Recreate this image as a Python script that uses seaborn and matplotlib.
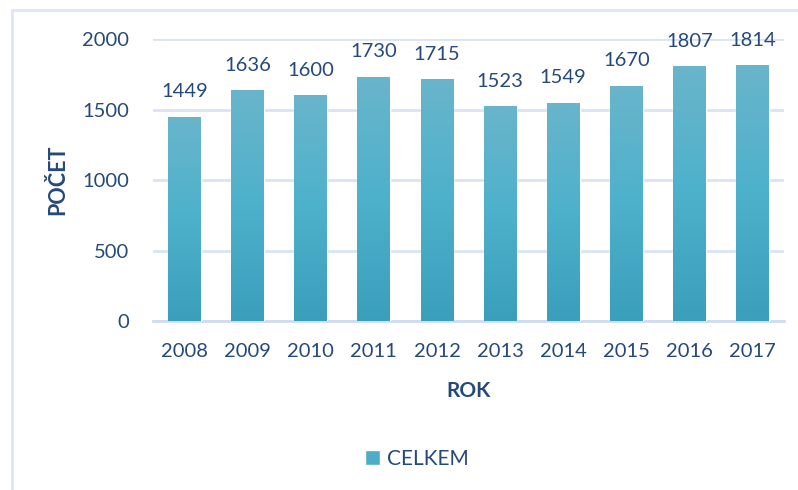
import numpy as np
import pandas as pd
import seaborn as sns
import matplotlib.pyplot as plt
from matplotlib.lines import Line2D
from matplotlib.patches import Patch

roky = ['2008', '2009', '2010', '2011', '2012', '2013', '2014', '2015', '2016', '2017']
celkem = [1449, 1636, 1600, 1730, 1715, 1523, 1549, 1670, 1807, 1814]

text_color = '#24497a'
grid_color = '#d9e3f2'

sns.set_theme(style='white')
plt.rcParams['font.family'] = ['Lato', 'DejaVu Sans']

df = pd.DataFrame({'rok': roky, 'pocet': celkem})

fig = plt.figure(figsize=(7.98, 4.90), dpi=100)
ax = fig.add_axes([0.1917, 0.3449, 0.7908, 0.5755])

sns.barplot(data=df, x='rok', y='pocet', color='#4aaec8', width=0.52,
            saturation=1, ax=ax, zorder=3)

# gradient fill on each bar (light at top, darker at bottom)
grad = np.linspace(0, 1, 256).reshape(-1, 1)
cmap = sns.blend_palette(['#3a9fbb', '#4db1cb', '#69b5cb'], as_cmap=True)
for p in ax.patches:
    x0, y0 = p.get_x(), p.get_y()
    w, h = p.get_width(), p.get_height()
    im = ax.imshow(grad, extent=[x0, x0 + w, y0, y0 + h], origin='lower',
                   cmap=cmap, aspect='auto', zorder=4)
    im.set_clip_path(p)

ax.set_xlim(-0.5, 9.5)
ax.set_ylim(0, 2000)
ax.set_yticks([0, 500, 1000, 1500, 2000])
ax.yaxis.grid(True, color=grid_color, linewidth=2)
ax.set_axisbelow(True)
for s in ['top', 'right', 'left']:
    ax.spines[s].set_visible(False)
ax.spines['bottom'].set_color('#cfdcee')
ax.spines['bottom'].set_linewidth(2)
ax.tick_params(axis='both', length=0, labelsize=14.5, labelcolor=text_color)
ax.tick_params(axis='y', pad=17)
ax.tick_params(axis='x', pad=16)

ax.bar_label(ax.containers[0], labels=[str(v) for v in celkem], padding=12,
             fontsize=14.5, color=text_color)

ax.set_xlabel('ROK', fontsize=15, fontweight='bold', color=text_color, labelpad=15)
ax.set_ylabel('POČET', fontsize=15.5, fontweight='bold', color=text_color, labelpad=10)

leg = fig.legend(handles=[Patch(facecolor='#4aaec8')], labels=['CELKEM'],
                 loc='center', bbox_to_anchor=(0.522, 0.063), frameon=False,
                 fontsize=15, handlelength=0.75, handleheight=0.75,
                 handletextpad=0.3)
for t in leg.get_texts():
    t.set_color(text_color)

# chart area border (only left and top visible in the crop)
fig.add_artist(Line2D([0.0145, 0.0145], [0, 0.98], transform=fig.transFigure,
                      color='#dce6f4', linewidth=2))
fig.add_artist(Line2D([0.0145, 1.0], [0.98, 0.98], transform=fig.transFigure,
                      color='#dce6f4', linewidth=2))

fig.savefig('out.png', dpi=100)
